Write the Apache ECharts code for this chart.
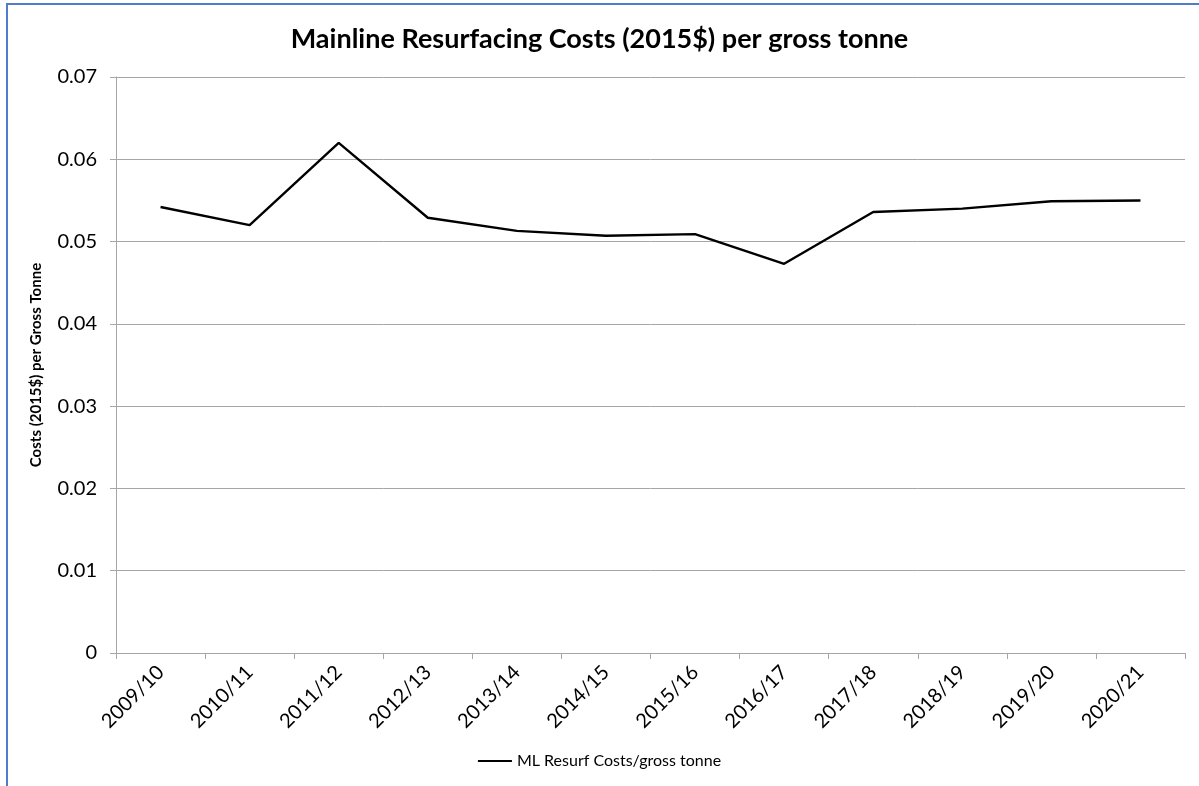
<!DOCTYPE html>
<html>
<head>
<meta charset="utf-8">
<script src="https://cdn.jsdelivr.net/npm/echarts@6/dist/echarts.min.js"></script>
<style>
html,body{margin:0;padding:0;background:#fff;}
#chart{position:absolute;left:0;top:0;width:1199px;height:786px;}
#frame{position:absolute;left:6px;top:3px;width:1199px;height:800px;border-left:2px solid #4F7DC9;border-top:2px solid #4F7DC9;pointer-events:none;}
</style>
</head>
<body>
<div id="chart"></div>
<div id="frame"></div>
<script>
const categories = ['2009/10','2010/11','2011/12','2012/13','2013/14','2014/15','2015/16','2016/17','2017/18','2018/19','2019/20','2020/21'];
const values = [0.0542, 0.0520, 0.0620, 0.0529, 0.0513, 0.0507, 0.0509, 0.0473, 0.0536, 0.0540, 0.0549, 0.0550];
const seriesName = 'ML Resurf Costs/gross tonne';
const titleText = 'Mainline Resurfacing Costs (2015$) per gross tonne';
const yAxisName = 'Costs (2015$) per Gross Tonne';
const yTicks = [0, 0.01, 0.02, 0.03, 0.04, 0.05, 0.06, 0.07];

const FONT = 'Lato, "Open Sans", sans-serif';
const chart = echarts.init(document.getElementById('chart'), null, {renderer:'canvas'});
chart.setOption({
  animation:false,
  backgroundColor:'#fff',
  title:{text:titleText,left:'center',top:21,
    textStyle:{fontFamily:FONT,fontWeight:'bold',fontSize:27,color:'#000'}},
  grid:{left:116,right:14,top:77,bottom:133,containLabel:false},
  legend:{bottom:12,left:'center',icon:'rect',itemWidth:34,itemHeight:2,itemGap:5,
    textStyle:{fontFamily:FONT,fontSize:16,color:'#000'},data:[seriesName]},
  xAxis:{type:'category',data:categories,boundaryGap:true,
    axisLine:{lineStyle:{color:'#A6A6A6',width:1}},
    axisTick:{show:true,length:6,alignWithLabel:false,lineStyle:{color:'#A6A6A6'}},
    axisLabel:{rotate:45,fontFamily:FONT,fontSize:20,color:'#000',margin:16,interval:0}},
  yAxis:{type:'value',min:yTicks[0],max:yTicks[yTicks.length-1],interval:0.01,
    name:yAxisName,nameLocation:'middle',nameGap:72,nameRotate:90,
    nameTextStyle:{fontFamily:FONT,fontWeight:'bold',fontSize:15,color:'#000'},
    axisLine:{show:true,lineStyle:{color:'#A6A6A6'}},
    axisTick:{show:true,length:6,lineStyle:{color:'#A6A6A6'}},
    axisLabel:{fontFamily:FONT,fontSize:20,color:'#000',margin:19,
      formatter:function(v){return v===0?'0':String(+v.toFixed(2));}},
    splitLine:{show:true,lineStyle:{color:'#A6A6A6',width:1}}},
  series:[{name:seriesName,type:'line',data:values,symbol:'none',showSymbol:false,
    lineStyle:{color:'#000',width:2.4},itemStyle:{color:'#000'}}]
});
</script>
</body>
</html>
